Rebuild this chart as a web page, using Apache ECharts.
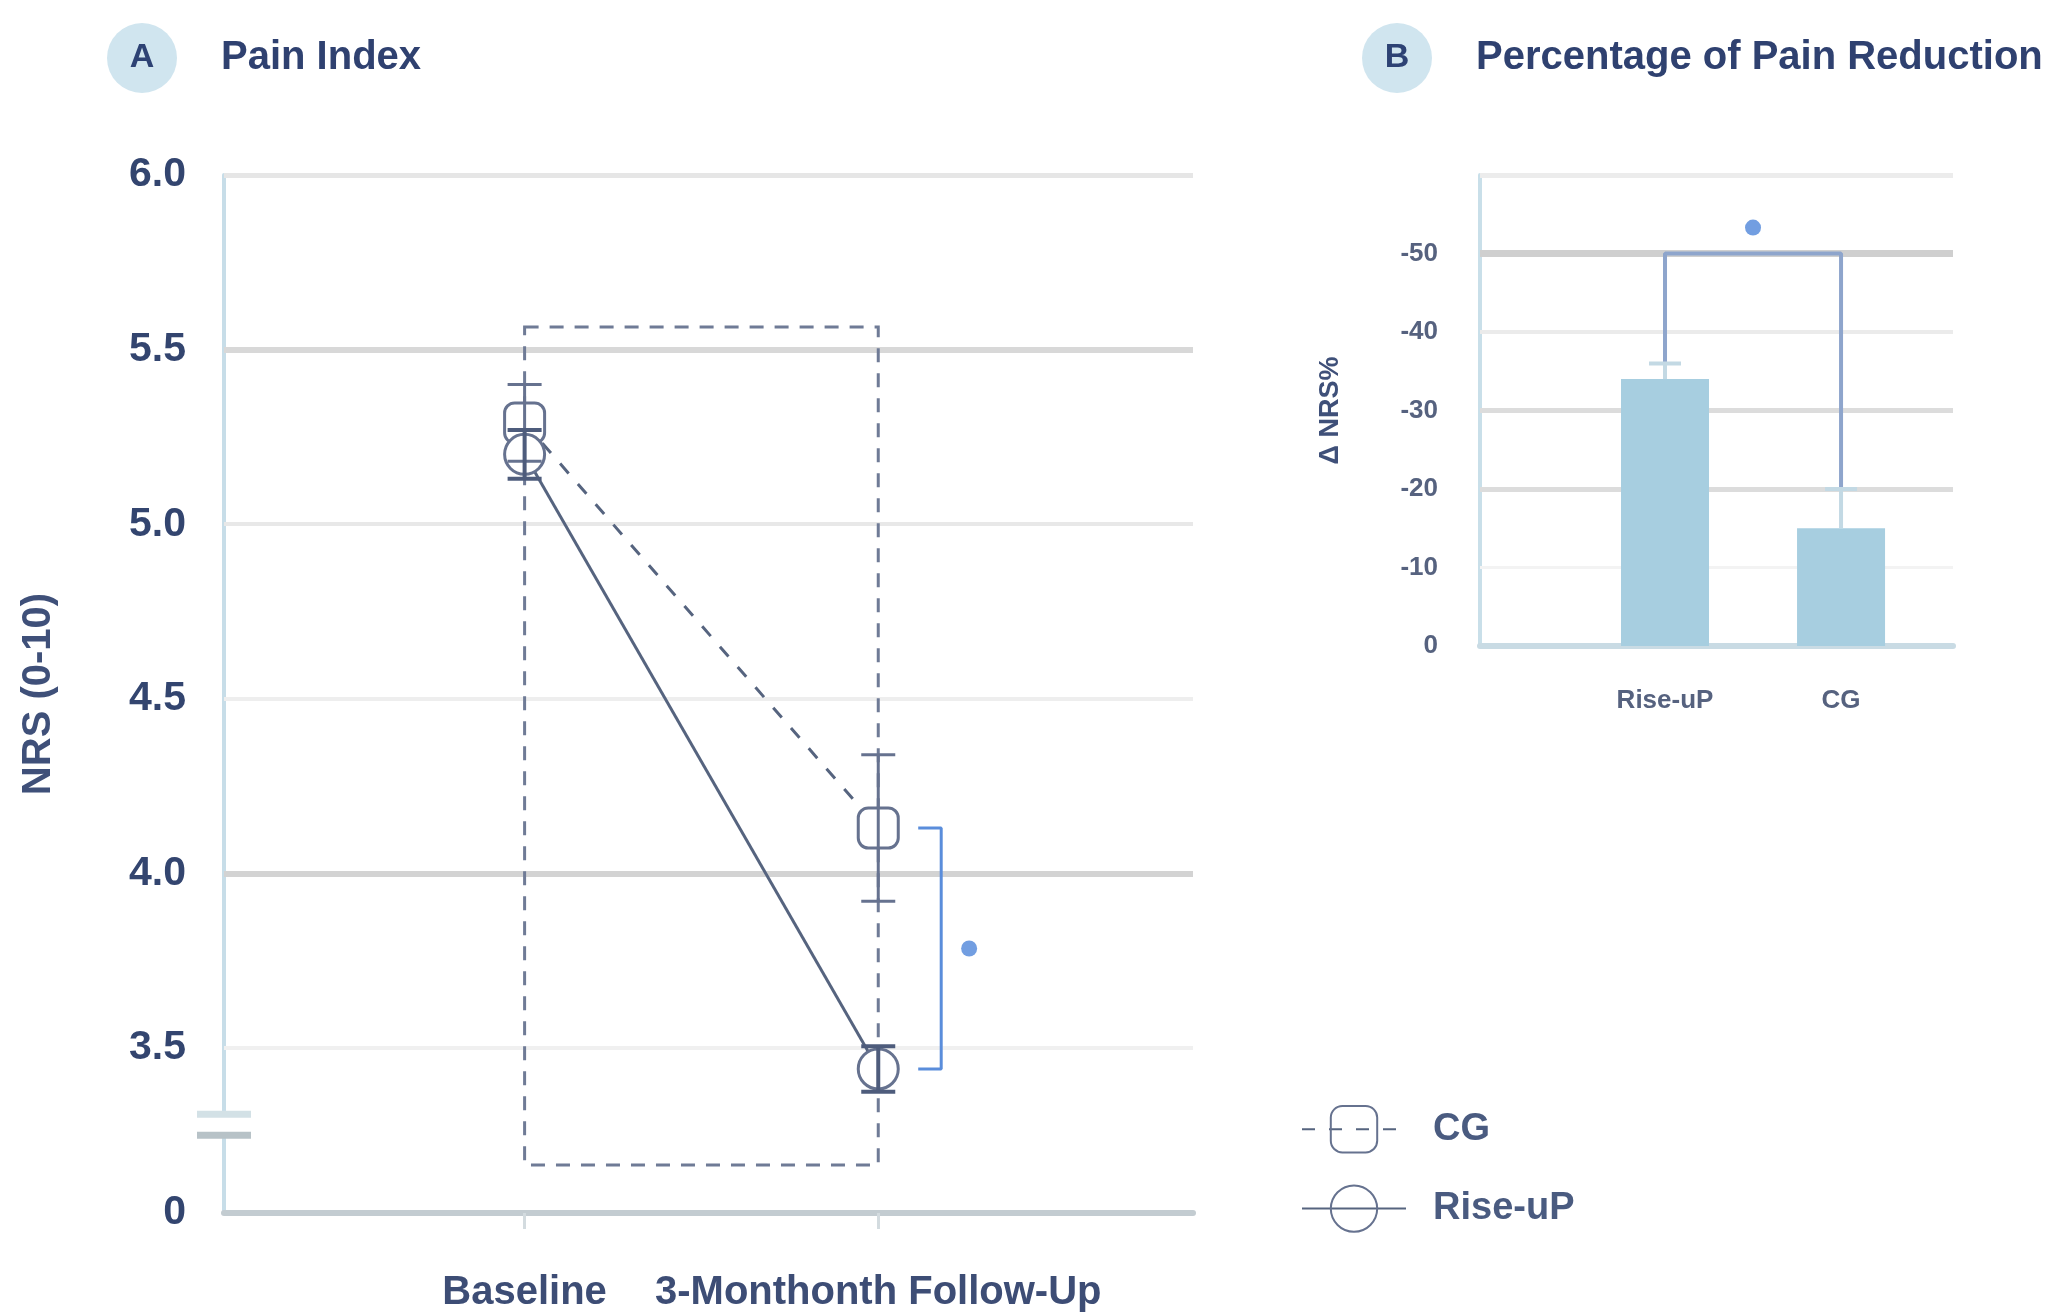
<!DOCTYPE html>
<html>
<head>
<meta charset="utf-8">
<script src="https://cdn.jsdelivr.net/npm/echarts@6/dist/echarts.min.js"></script>
<style>
  html, body { margin: 0; padding: 0; background: #ffffff; }
  #chart { width: 2067px; height: 1315px; }
</style>
</head>
<body>
<div id="chart"></div>
<script>
// ---- Panel A: pain index (NRS 0-10) at two time points ----
const timePoints = ['Baseline', '3-Monthonth Follow-Up'];
const cgMean = [5.29, 4.13];
const cgErr = [0.11, 0.21];
const riseMean = [5.20, 3.44];
const riseErr = [0.07, 0.065];
const nrsTicks = [3.5, 4.0, 4.5, 5.0, 5.5, 6.0];
const nrsFloor = 3.0275;          // axis floor, labelled 0 below the break
const nrsBreak = [3.25, 3.31];    // the two strokes of the axis break
const nrsBox = [5.565, 3.165];    // dashed frame around both time points

// ---- Panel B: percentage of pain reduction ----
const groups = ['Rise-uP', 'CG'];
const reduction = [34, 15];
const reductionErr = [2, 5];
const pctTicks = [0, 10, 20, 30, 40, 50];
const pctMax = 60;
const sigLevelB = 50;
const sigStarB = 53.3;

// ---- look ----
const FONT = "'Liberation Sans', Arial, sans-serif";
const NAVY = '#33456f';
const LINE = '#56647f';
const MARK = '#66728f';
const SIG = '#5a8ddb';
const AX_A = [-0.85, 1.89];
const AX_B = [-0.051, 2.636];

const gridStyleA = { 3.5: ['#f0f0f0', 4], 4.0: ['#d3d3d3', 6], 4.5: ['#eeeeee', 4],
                     5.0: ['#e8e8e8', 4], 5.5: ['#d8d8d8', 6], 6.0: ['#e6e6e6', 5] };
const gridStyleB = { 10: ['#f3f3f3', 3], 20: ['#dcdcdc', 5], 30: ['#dcdcdc', 5],
                     40: ['#ebebeb', 4], 50: ['#cfcfcf', 7], 60: ['#ececec', 5] };

function gridLines(values, styles) {
  return {
    silent: true, symbol: 'none', label: { show: false }, z: 1,
    data: values.map(v => ({ yAxis: v, lineStyle: { color: styles[v][0], width: styles[v][1], type: 'solid' } }))
  };
}

// vertical error bar: [x, low, high]; caps drawn where requested
function errorBars(capHalf, color, width, lowCap) {
  return function (params, api) {
    const x = api.value(0);
    const lo = api.coord([x, api.value(1)]);
    const hi = api.coord([x, api.value(2)]);
    const st = { stroke: color, lineWidth: width };
    const kids = [
      { type: 'line', shape: { x1: lo[0], y1: lo[1], x2: hi[0], y2: hi[1] }, style: st },
      { type: 'line', shape: { x1: hi[0] - capHalf, y1: hi[1], x2: hi[0] + capHalf, y2: hi[1] }, style: st }
    ];
    if (lowCap) {
      kids.push({ type: 'line', shape: { x1: lo[0] - capHalf, y1: lo[1], x2: lo[0] + capHalf, y2: lo[1] }, style: st });
    }
    return { type: 'group', children: kids };
  };
}

const chart = echarts.init(document.getElementById('chart'), null, { renderer: 'canvas' });

const badge = {
  b: { width: 70, height: 70, lineHeight: 70, borderRadius: 35, backgroundColor: '#d0e5ef',
       align: 'center', fontSize: 34, fontWeight: 'bold', color: '#2d4274', fontFamily: FONT },
  t: { fontSize: 40, fontWeight: 'bold', color: '#2f4170', padding: [0, 0, 0, 44], fontFamily: FONT }
};

const option = {
  backgroundColor: '#ffffff',
  animation: false,
  textStyle: { fontFamily: FONT },
  title: [
    { left: 107, top: 23, padding: 0, text: '{b|A}{t|Pain Index}', textStyle: { rich: badge } },
    { left: 1362, top: 23, padding: 0, text: '{b|B}{t|Percentage of Pain Reduction}', textStyle: { rich: badge } }
  ],
  legend: {
    orient: 'vertical', left: 1296, top: 1100,
    itemWidth: 104, itemHeight: 58, itemGap: 31, selectedMode: false,
    data: [
      { name: 'CG', itemStyle: { color: 'rgba(255,255,255,0)' } },
      { name: 'Rise-uP', itemStyle: { color: 'rgba(255,255,255,0)' } }
    ],
    textStyle: { fontSize: 38, fontWeight: 'bold', color: '#4a5b80', padding: [0, 0, 0, 22], fontFamily: FONT }
  },
  grid: [
    { left: 224, top: 175, width: 969, height: 1038 },
    { left: 1480, top: 175, width: 473, height: 471 }
  ],
  xAxis: [
    {
      gridIndex: 0, type: 'value', min: AX_A[0], max: AX_A[1],
      axisLine: { show: true, onZero: false, lineStyle: { color: '#c3ccd1', width: 6 } },
      axisTick: { show: true, customValues: [0, 1], length: 16, lineStyle: { color: '#d3dbdf', width: 3 } },
      axisLabel: {
        customValues: [0, 1], formatter: v => timePoints[Math.round(v)],
        margin: 60, fontSize: 40, fontWeight: 'bold', color: '#3d4d75'
      },
      splitLine: { show: false }
    },
    {
      gridIndex: 1, type: 'value', min: AX_B[0], max: AX_B[1],
      axisLine: { show: true, onZero: false, lineStyle: { color: '#c9dbe4', width: 6 } },
      axisTick: { show: false },
      axisLabel: {
        customValues: [1, 2], formatter: v => groups[Math.round(v) - 1],
        margin: 42, fontSize: 26, fontWeight: 'bold', color: '#56627f'
      },
      splitLine: { show: false }
    }
  ],
  yAxis: [
    {
      gridIndex: 0, type: 'value', min: nrsFloor, max: 6,
      axisLine: { show: true, onZero: false, lineStyle: { color: '#c7dde8', width: 4 } },
      axisTick: { show: false },
      splitLine: { show: false },
      axisLabel: {
        customValues: [nrsFloor].concat(nrsTicks),
        formatter: v => (v < nrsTicks[0] ? '0' : v.toFixed(1)),
        margin: 38, fontSize: 41, fontWeight: 'bold', color: NAVY, padding: [0, 0, 20, 0]
      },
      name: 'NRS (0-10)', nameLocation: 'middle', nameGap: 165,
      nameTextStyle: { fontSize: 40, fontWeight: 'bold', color: '#3f5079' }
    },
    {
      gridIndex: 1, type: 'value', min: 0, max: pctMax,
      axisLine: { show: true, onZero: false, lineStyle: { color: '#c9dfe9', width: 4 } },
      axisTick: { show: false },
      splitLine: { show: false },
      axisLabel: {
        customValues: pctTicks, formatter: v => (v === 0 ? '0' : '-' + v),
        margin: 42, fontSize: 26, fontWeight: 'bold', color: '#56627f', padding: [0, 0, 16, 0]
      },
      name: 'Δ NRS%', nameLocation: 'middle', nameGap: 136,
      nameTextStyle: { fontSize: 27, fontWeight: 'bold', color: '#3f5079' }
    }
  ],
  series: [
    // panel A: gridlines and dashed frame
    {
      name: 'gridA', type: 'line', xAxisIndex: 0, yAxisIndex: 0, data: [], z: 1, silent: true,
      markLine: gridLines(nrsTicks, gridStyleA),
      markArea: {
        silent: true, z: 2,
        itemStyle: { color: 'rgba(0,0,0,0)', borderColor: '#6f7b96', borderWidth: 3, borderType: [14, 11] },
        data: [[{ xAxis: 0, yAxis: nrsBox[0] }, { xAxis: 1, yAxis: nrsBox[1] }]]
      }
    },
    // axis break strokes on the NRS axis
    {
      name: 'breakA', type: 'custom', xAxisIndex: 0, yAxisIndex: 0, z: 10, silent: true,
      data: [[AX_A[0], nrsBreak[0], nrsBreak[1]]],
      renderItem: function (params, api) {
        const low = api.coord([api.value(0), api.value(1)]);
        const high = api.coord([api.value(0), api.value(2)]);
        const x = low[0];
        return {
          type: 'group', children: [
            { type: 'rect', shape: { x: x - 6, y: high[1], width: 12, height: low[1] - high[1] }, style: { fill: '#ffffff' } },
            { type: 'line', shape: { x1: x - 27, y1: high[1], x2: x + 27, y2: high[1] }, style: { stroke: '#d3e1e6', lineWidth: 7 } },
            { type: 'line', shape: { x1: x - 27, y1: low[1], x2: x + 27, y2: low[1] }, style: { stroke: '#b7c2c7', lineWidth: 7 } }
          ]
        };
      }
    },
    {
      name: 'CG', type: 'line', xAxisIndex: 0, yAxisIndex: 0, z: 3,
      data: cgMean.map((v, i) => [i, v]),
      symbol: 'roundRect', symbolSize: 40,
      lineStyle: { color: LINE, width: 3, type: [13, 14] },
      itemStyle: { color: '#ffffff', borderColor: MARK, borderWidth: 3 }
    },
    {
      name: 'Rise-uP', type: 'line', xAxisIndex: 0, yAxisIndex: 0, z: 3,
      data: riseMean.map((v, i) => [i, v]),
      symbol: 'circle', symbolSize: 40,
      lineStyle: { color: LINE, width: 3, type: 'solid' },
      itemStyle: { color: '#ffffff', borderColor: MARK, borderWidth: 3 }
    },
    {
      name: 'errCG', type: 'custom', xAxisIndex: 0, yAxisIndex: 0, z: 5, silent: true,
      data: cgMean.map((v, i) => [i, v - cgErr[i], v + cgErr[i]]),
      renderItem: errorBars(17, '#66728f', 3, true)
    },
    {
      name: 'errRise', type: 'custom', xAxisIndex: 0, yAxisIndex: 0, z: 5, silent: true,
      data: riseMean.map((v, i) => [i, v - riseErr[i], v + riseErr[i]]),
      renderItem: errorBars(17, '#4e5c7c', 4, true)
    },
    // significance bracket between follow-up means
    {
      name: 'sigA', type: 'line', xAxisIndex: 0, yAxisIndex: 0, z: 4, silent: true,
      symbol: 'none', lineStyle: { color: SIG, width: 3 },
      data: [[1.113, cgMean[1]], [1.178, cgMean[1]], [1.178, riseMean[1]], [1.113, riseMean[1]]]
    },
    {
      name: 'sigDotA', type: 'scatter', xAxisIndex: 0, yAxisIndex: 0, z: 4, silent: true,
      symbolSize: 16, itemStyle: { color: '#4f86d9' },
      data: [[1.257, (cgMean[1] + riseMean[1]) / 2]]
    },

    // panel B
    {
      name: 'gridB', type: 'line', xAxisIndex: 1, yAxisIndex: 1, data: [], z: 1, silent: true,
      markLine: gridLines(pctTicks.slice(1).concat([pctMax]), gridStyleB)
    },
    {
      name: 'Δ NRS%', type: 'bar', xAxisIndex: 1, yAxisIndex: 1, z: 3,
      barWidth: 88, itemStyle: { color: '#a7cee0' },
      data: reduction.map((v, i) => [i + 1, v])
    },
    {
      name: 'errB', type: 'custom', xAxisIndex: 1, yAxisIndex: 1, z: 5, silent: true,
      data: reduction.map((v, i) => [i + 1, v, v + reductionErr[i]]),
      renderItem: errorBars(16, '#c3d9e4', 4, false)
    },
    {
      name: 'sigB', type: 'line', xAxisIndex: 1, yAxisIndex: 1, z: 4, silent: true,
      symbol: 'none', lineStyle: { color: '#8ea5cc', width: 4 },
      data: [[1, reduction[0] + reductionErr[0]], [1, sigLevelB], [2, sigLevelB], [2, reduction[1] + reductionErr[1]]]
    },
    {
      name: 'sigDotB', type: 'scatter', xAxisIndex: 1, yAxisIndex: 1, z: 4, silent: true,
      symbolSize: 16, itemStyle: { color: '#4f86d9' },
      data: [[1.5, sigStarB]]
    }
  ]
};

chart.setOption(option);
</script>
</body>
</html>
